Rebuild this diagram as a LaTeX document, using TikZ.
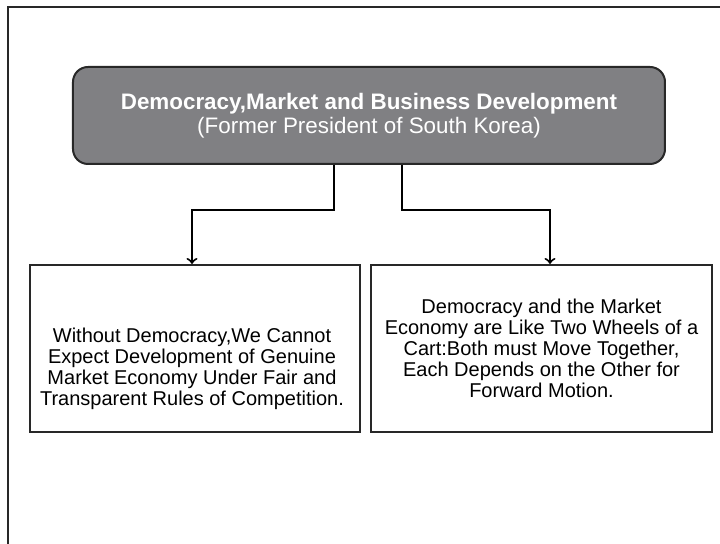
\documentclass[tikz,border=0pt]{standalone}
\usepackage{fontspec}
\setmainfont{Liberation Sans}
\usetikzlibrary{calc}
\definecolor{boxgray}{RGB}{128,128,131}
\definecolor{linegray}{RGB}{40,40,40}

\begin{document}
\begin{tikzpicture}[x=0.5pt,y=0.5pt,
		headbox/.style={draw=linegray,line width=1pt,fill=boxgray,rounded corners=7.5pt,minimum width=296pt,minimum height=48.5pt,inner sep=0pt,text=white,align=center,font=\fontsize{11.2}{12}\selectfont},
		textbox/.style={draw=linegray,line width=1pt,minimum height=83.5pt,inner sep=0pt,align=center,font=\fontsize{10}{10.5}\selectfont},
		boxtext/.style={align=center,inner sep=0pt,font=\fontsize{10}{10.5}\selectfont},
		link/.style={draw=black,line width=1pt,->}]
		\useasboundingbox (0,0) rectangle (720,544);
		\draw[linegray,line width=1pt] (8,0) -- (8,537) -- (720,537);
		\node[headbox] (head) at (369,428.5) {\textbf{Democracy,Market and Business Development}\\(Former President of South Korea)};
		\node[textbox,minimum width=165pt] (left) at (195,195.5) {};
		\node[boxtext] (lefttext) at (192,175) {Without Democracy,We Cannot\\Expect Development of Genuine\\Market Economy Under Fair and\\Transparent Rules of Competition.};
		\node[textbox,minimum width=170.5pt] (right) at (541.5,195.5) {Democracy and the Market\\Economy are Like Two Wheels of a\\Cart:Both must Move Together,\\Each Depends on the Other for\\Forward Motion.};
		\coordinate (jl) at (192,334);
		\coordinate (jr) at (550,334);
		\draw[link] ($(head.south)+(-35,0)$) |- (jl) -- (jl |- left.north);
		\draw[link] ($(head.south)+(33,0)$) |- (jr) -- (jr |- right.north);
		\end{tikzpicture}
\end{document}
